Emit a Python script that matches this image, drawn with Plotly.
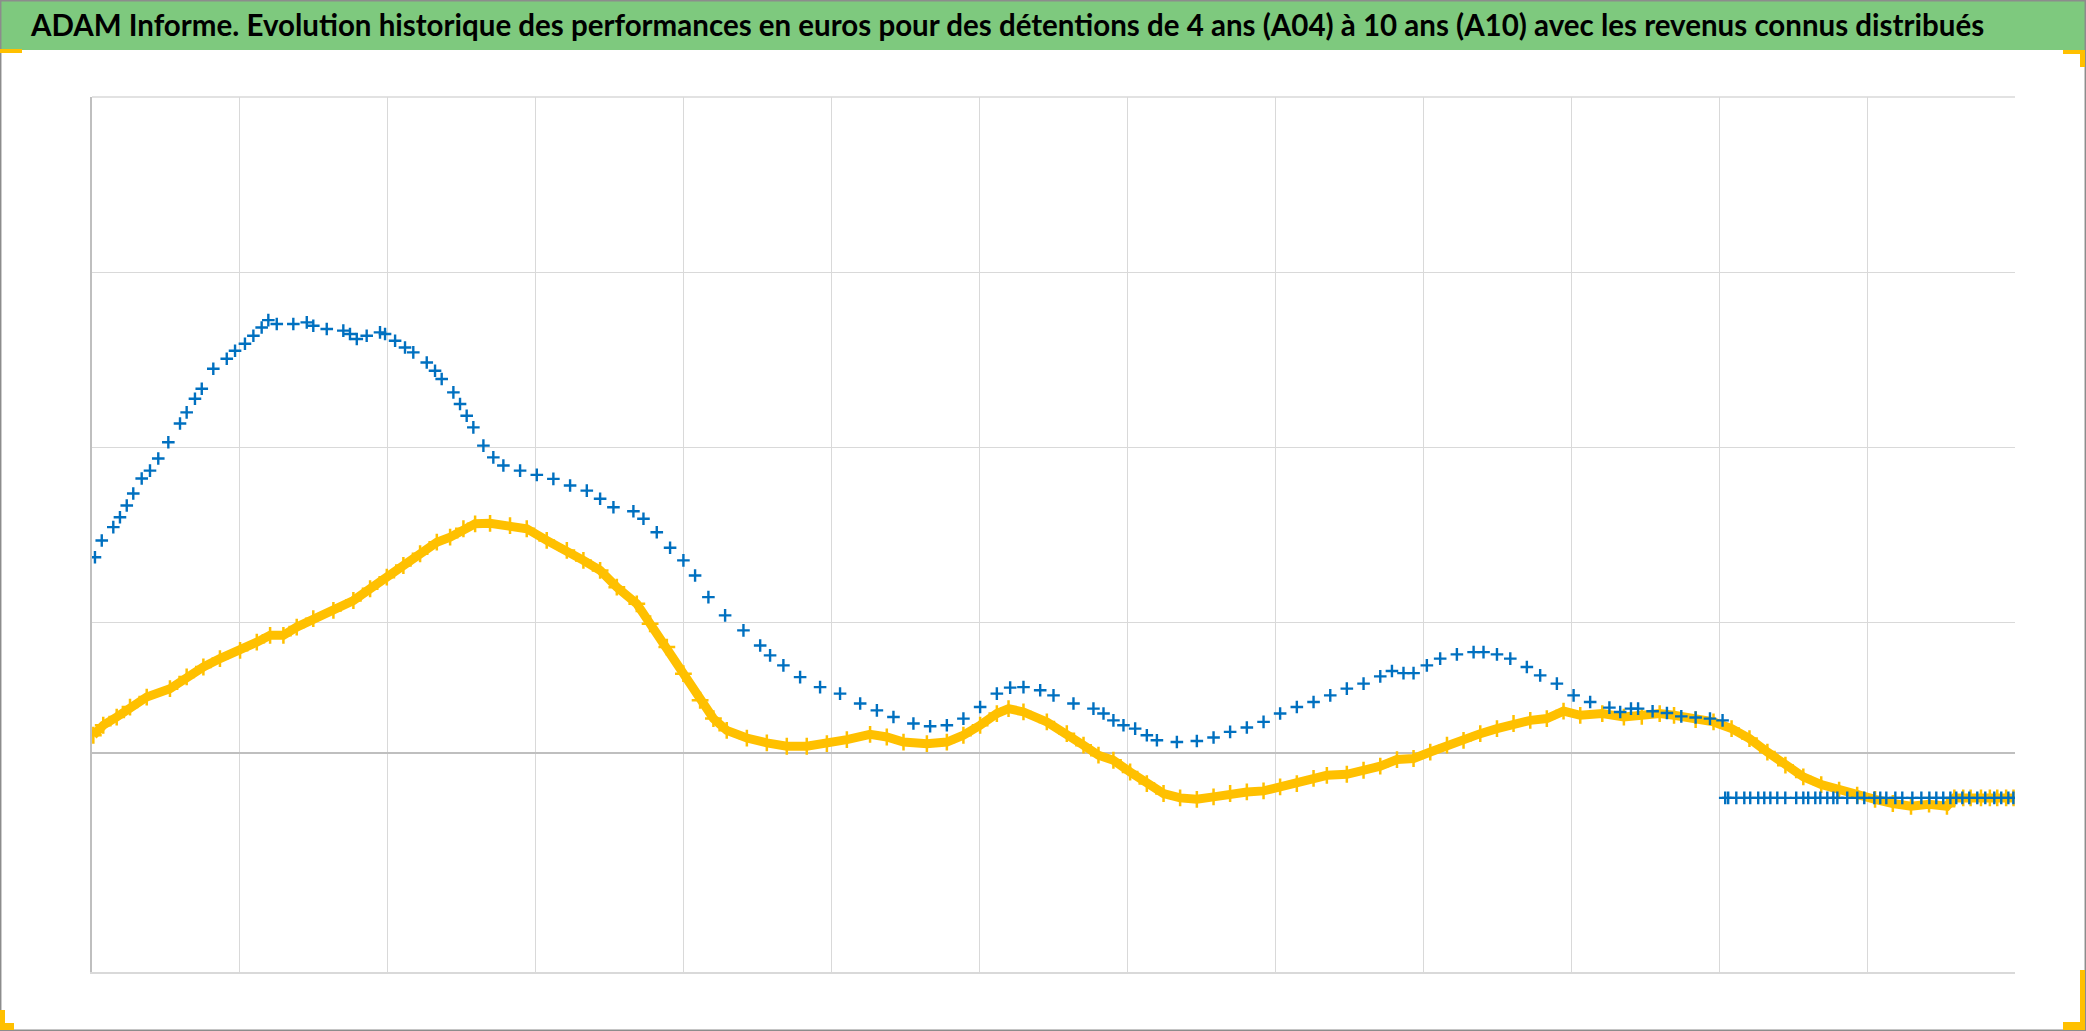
import plotly.graph_objects as go

# ---------------- data (x in period units, y in value units) ----------------
blue_x = [0.020, 0.066, 0.144, 0.189, 0.235, 0.279, 0.336, 0.392, 0.448, 0.516,
          0.595, 0.640, 0.696, 0.742, 0.820, 0.911, 0.967, 1.034, 1.091, 1.147,
          1.192, 1.249, 1.361, 1.452, 1.496, 1.587, 1.699, 1.744, 1.790, 1.857,
          1.947, 1.981, 2.049, 2.116, 2.172, 2.263, 2.319, 2.364, 2.443, 2.488,
          2.533, 2.578, 2.646, 2.713, 2.781, 2.894, 3.007, 3.119, 3.232, 3.345,
          3.435, 3.525, 3.660, 3.728, 3.818, 3.908, 3.998, 4.077, 4.167, 4.280,
          4.404, 4.517, 4.584, 4.674, 4.787, 4.922, 5.057, 5.193, 5.306, 5.418,
          5.553, 5.666, 5.779, 5.891, 6.004, 6.117, 6.207, 6.297, 6.410, 6.500,
          6.635, 6.770, 6.838, 6.905, 6.973, 7.052, 7.131, 7.199, 7.334, 7.469,
          7.582, 7.694, 7.807, 7.920, 8.032, 8.145, 8.258, 8.371, 8.483, 8.596,
          8.709, 8.788, 8.866, 8.934, 9.024, 9.114, 9.227, 9.340, 9.407, 9.498,
          9.588, 9.700, 9.790, 9.903, 10.016, 10.128, 10.258, 10.331, 10.404, 10.452,
          10.550, 10.647, 10.744, 10.841, 10.938, 11.023,
          11.041, 11.061, 11.116, 11.170, 11.210, 11.264, 11.305, 11.346, 11.393, 11.447,
          11.521, 11.569, 11.602, 11.650, 11.684, 11.731, 11.772, 11.799, 11.866, 11.934,
          11.981, 12.049, 12.089, 12.130, 12.191, 12.238, 12.306, 12.367, 12.421, 12.468,
          12.515, 12.563, 12.603, 12.644, 12.691, 12.745, 12.799, 12.860, 12.907, 12.955,
          12.989]
blue_y = [1.120, 1.216, 1.292, 1.349, 1.416, 1.484, 1.570, 1.615, 1.684, 1.777,
          1.884, 1.948, 2.026, 2.083, 2.197, 2.254, 2.300, 2.340, 2.386, 2.433,
          2.475, 2.453, 2.453, 2.462, 2.443, 2.424, 2.415, 2.396, 2.367, 2.386,
          2.405, 2.396, 2.357, 2.319, 2.291, 2.233, 2.186, 2.139, 2.062, 1.996,
          1.929, 1.862, 1.758, 1.691, 1.644, 1.615, 1.591, 1.568, 1.530, 1.501,
          1.454, 1.406, 1.383, 1.340, 1.263, 1.174, 1.102, 1.016, 0.892, 0.788,
          0.702, 0.616, 0.559, 0.502, 0.435, 0.378, 0.341, 0.284, 0.245, 0.207,
          0.170, 0.154, 0.160, 0.198, 0.264, 0.341, 0.375, 0.378, 0.360, 0.331,
          0.284, 0.255, 0.227, 0.188, 0.160, 0.141, 0.103, 0.074, 0.064, 0.070,
          0.090, 0.122, 0.147, 0.179, 0.227, 0.264, 0.293, 0.331, 0.369, 0.398,
          0.439, 0.470, 0.458, 0.458, 0.502, 0.541, 0.565, 0.578, 0.578, 0.565,
          0.541, 0.493, 0.445, 0.398, 0.331, 0.293, 0.261, 0.236, 0.255, 0.255,
          0.240, 0.230, 0.211, 0.204, 0.198, 0.188,
          -0.255, -0.255, -0.255, -0.255, -0.255, -0.255, -0.255, -0.255, -0.255, -0.255,
          -0.255, -0.255, -0.255, -0.255, -0.255, -0.255, -0.255, -0.255, -0.255, -0.255,
          -0.255, -0.255, -0.255, -0.255, -0.255, -0.255, -0.255, -0.255, -0.255, -0.255,
          -0.255, -0.255, -0.255, -0.255, -0.255, -0.255, -0.255, -0.255, -0.255, -0.255,
          -0.255]

yellow_x = [0.009, 0.076, 0.167, 0.257, 0.370, 0.527, 0.640, 0.753, 0.865, 1.001,
            1.114, 1.204, 1.294, 1.384, 1.496, 1.632, 1.767, 1.880, 1.993, 2.105,
            2.218, 2.331, 2.421, 2.511, 2.590, 2.691, 2.826, 2.939, 3.074, 3.210,
            3.322, 3.435, 3.548, 3.683, 3.773, 3.886, 3.998, 4.111, 4.201, 4.291,
            4.427, 4.562, 4.697, 4.832, 4.968, 5.103, 5.260, 5.373, 5.486, 5.644,
            5.779, 5.891, 6.004, 6.117, 6.196, 6.297, 6.455, 6.590, 6.703, 6.804,
            6.905, 7.018, 7.131, 7.244, 7.356, 7.469, 7.582, 7.694, 7.807, 7.920,
            8.032, 8.145, 8.258, 8.348, 8.483, 8.596, 8.709, 8.822, 8.934, 9.047,
            9.160, 9.272, 9.385, 9.498, 9.610, 9.723, 9.835, 9.948, 10.061, 10.210,
            10.356, 10.477, 10.598, 10.695, 10.841, 10.962, 11.084, 11.205, 11.326, 11.448,
            11.569, 11.690, 11.811, 11.933, 12.054, 12.174, 12.297, 12.419, 12.540,
            12.590, 12.650, 12.700, 12.770, 12.830, 12.880, 12.940, 12.990]
yellow_y = [0.103, 0.160, 0.207, 0.264, 0.321, 0.369, 0.436, 0.493, 0.541, 0.588,
            0.635, 0.674, 0.674, 0.721, 0.769, 0.816, 0.873, 0.940, 1.006, 1.073,
            1.140, 1.206, 1.235, 1.283, 1.311, 1.314, 1.301, 1.283, 1.216, 1.159,
            1.102, 1.045, 0.949, 0.854, 0.740, 0.607, 0.455, 0.303, 0.198, 0.131,
            0.087, 0.059, 0.040, 0.040, 0.055, 0.078, 0.108, 0.093, 0.064, 0.055,
            0.064, 0.103, 0.160, 0.227, 0.255, 0.236, 0.179, 0.112, 0.046, -0.011,
            -0.040, -0.107, -0.173, -0.230, -0.255, -0.263, -0.249, -0.230, -0.221, -0.215,
            -0.192, -0.173, -0.144, -0.126, -0.120, -0.097, -0.074, -0.036, -0.030, 0.007,
            0.046, 0.074, 0.112, 0.141, 0.170, 0.188, 0.198, 0.241, 0.217, 0.227,
            0.207, 0.211, 0.227, 0.217, 0.192, 0.179, 0.141, 0.084, 0.007, -0.068,
            -0.135, -0.179, -0.211, -0.240, -0.264, -0.287, -0.303, -0.291, -0.303,
            -0.255, -0.255, -0.255, -0.255, -0.255, -0.255, -0.255, -0.255]

title_text = ("ADAM Informe. Evolution historique des performances en euros pour des "
              "détentions de 4 ans (A04) à 10 ans (A10) avec les revenus connus distribués")

x_grid = [1, 2, 3, 4, 5, 6, 7, 8, 9, 10, 11, 12]
y_grid = [0.75, 1.75, 2.75]

# ---------------- layout geometry ----------------
W, H = 2086, 1031
L, R, T, B = 92, 71, 97, 59
PW, PH = W - L - R, H - T - B


def px(xp):
    return (xp - L) / PW


def py(yp):
    return (H - B - yp) / PH


fig = go.Figure()

fig.add_trace(go.Scatter(
    x=yellow_x, y=yellow_y, mode="lines+markers",
    line=dict(color="#FFC000", width=9),
    marker=dict(symbol="cross-thin", size=12, line=dict(color="#FFC000", width=2.5)),
    showlegend=False, hoverinfo="skip"))

fig.add_trace(go.Scatter(
    x=blue_x, y=blue_y, mode="markers",
    marker=dict(symbol="cross-thin", size=9, line=dict(color="#0070C0", width=2.4)),
    showlegend=False, hoverinfo="skip"))

shapes = []
# title band
shapes.append(dict(type="rect", xref="paper", yref="paper",
                   x0=px(0), x1=px(W), y0=py(50), y1=py(0),
                   fillcolor="#7EC97E", line=dict(width=0), layer="below"))
# top gridline of the plot area
shapes.append(dict(type="line", xref="paper", yref="paper",
                   x0=0, x1=1, y0=1, y1=1, layer="below",
                   line=dict(color="#D9D9D9", width=1.4)))
# outer border
shapes.append(dict(type="rect", xref="paper", yref="paper",
                   x0=px(0.7), x1=px(W - 0.7), y0=py(H - 0.7), y1=py(0.7),
                   fillcolor="rgba(0,0,0,0)", line=dict(color="#8C8C8C", width=1.5)))
# corner marks
marks = [(0, 22, 49, 53), (2063, 2085, 50, 54), (2080, 2085, 50, 67),
         (2080, 2085, 970, 1030), (2063, 2085, 1022, 1030),
         (0, 5, 1010, 1030), (0, 14, 1023, 1030)]
for x0, x1, y0, y1 in marks:
    shapes.append(dict(type="rect", xref="paper", yref="paper",
                       x0=px(x0), x1=px(x1), y0=py(y1), y1=py(y0),
                       fillcolor="#FFC000", line=dict(width=0)))

fig.update_layout(
    width=W, height=H,
    margin=dict(l=L, r=R, t=T, b=B, pad=0),
    paper_bgcolor="white", plot_bgcolor="white",
    showlegend=False,
    shapes=shapes,
    annotations=[dict(text="<b>" + title_text + "</b>", xref="paper", yref="paper",
                      x=px(1007), y=py(25), xanchor="center", yanchor="middle",
                      showarrow=False,
                      font=dict(family="Lato, Noto Sans, sans-serif", size=29.5, color="black"))],
    xaxis=dict(range=[0, 13], tickmode="array", tickvals=x_grid, showticklabels=False,
               showgrid=True, gridcolor="#D9D9D9", gridwidth=1.4,
               zeroline=False, showline=True, linecolor="#D9D9D9", linewidth=1.5,
               ticks=""),
    yaxis=dict(range=[-1.25, 3.75], tickmode="array", tickvals=y_grid, showticklabels=False,
               showgrid=True, gridcolor="#D9D9D9", gridwidth=1.4,
               zeroline=True, zerolinecolor="#BFBFBF", zerolinewidth=2,
               showline=True, linecolor="#BFBFBF", linewidth=1.8, ticks=""),
)

fig.write_html("out.html", config={"displayModeBar": False},
               post_script="document.body.style.margin='0';document.body.style.overflow='hidden';")
